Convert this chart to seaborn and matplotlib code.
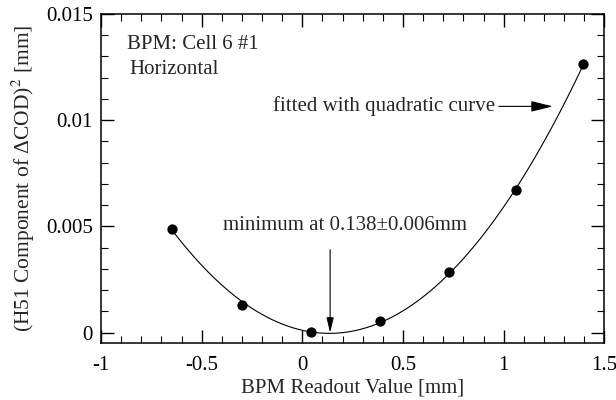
import matplotlib
matplotlib.use("Agg")
import matplotlib.pyplot as plt
import matplotlib.ticker as mticker
import pandas as pd
import seaborn as sns

# BPM readout vs squared H51 component
readout = [-0.646, -0.298, 0.044, 0.387, 0.728, 1.063, 1.396]
h51_sq = [0.0049, 0.00129, 0.00002, 0.00056, 0.00285, 0.00669, 0.01264]
x_min = 0.138

df = pd.DataFrame({"x": readout, "y": h51_sq})

sns.set_style("ticks")
plt.rcParams["font.family"] = ["Liberation Serif", "DejaVu Serif"]
plt.rcParams["mathtext.fontset"] = "stix"

fig = plt.figure(figsize=(6.16, 4.0), dpi=100)
ax = fig.add_axes([0.164, 0.142, 0.817, 0.823])

# quadratic fit through the points
sns.regplot(data=df, x="x", y="y", order=2, ci=None, ax=ax,
            scatter_kws=dict(color="black", s=55, alpha=1, zorder=3, linewidths=0),
            line_kws=dict(color="black", lw=0.8))

ax.set_xlim(-1, 1.5)
ax.set_ylim(-0.0005, 0.015)
ax.xaxis.set_major_locator(mticker.MultipleLocator(0.5))
ax.xaxis.set_minor_locator(mticker.MultipleLocator(0.1))
ax.yaxis.set_major_locator(mticker.MultipleLocator(0.005))
ax.yaxis.set_minor_locator(mticker.MultipleLocator(0.001))
fmt = mticker.FuncFormatter(lambda v, p: "%g" % round(v, 6))
ax.xaxis.set_major_formatter(fmt)
ax.yaxis.set_major_formatter(fmt)
ax.tick_params(which="both", direction="in", top=True, right=True, color="black",
               labelsize=15, labelcolor="black")
ax.tick_params(which="major", length=9.5, width=1)
ax.tick_params(which="minor", length=5, width=0.8)
ax.tick_params(axis="x", pad=9)
ax.tick_params(axis="y", pad=6)
for s in ax.spines.values():
    s.set_color("black")
    s.set_linewidth(1.1)

ax.set_xlabel("BPM Readout Value [mm]", fontsize=15, labelpad=3)
ax.set_ylabel("(H51 Component of \u0394COD)$^2$ [mm]", fontsize=15.5, labelpad=6)

ax.text(-0.87, 0.01357, "BPM: Cell 6 #1", fontsize=15, va="center", ha="left")
ax.text(-0.86, 0.01239, "Horizontal", fontsize=15, va="center", ha="left")

arrow = dict(arrowstyle="-|>,head_length=0.9,head_width=0.22", color="black", lw=0.8,
             shrinkA=0, shrinkB=0)
ax.annotate("fitted with quadratic curve", xy=(1.245, 0.01065), xytext=(0.96, 0.01065),
            ha="right", va="center", fontsize=15, arrowprops=arrow)
ax.text(0.21, 0.00506, "minimum at 0.138\u00b10.006mm", fontsize=15, ha="center", va="center")
ax.annotate("", xy=(x_min, 0.0), xytext=(x_min, 0.0039), arrowprops=arrow)

fig.savefig("out.png", dpi=100)
